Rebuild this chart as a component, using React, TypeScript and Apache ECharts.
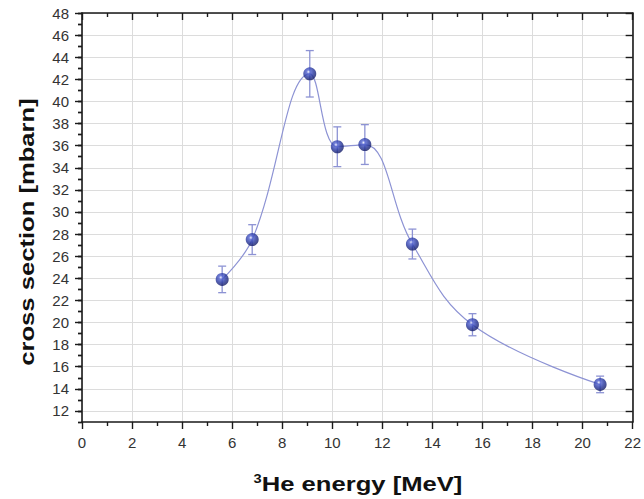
import React, { useEffect, useRef } from "react";
import * as echarts from "echarts";

const energy = [5.6, 6.8, 9.1, 10.2, 11.3, 13.2, 15.6, 20.7];
const crossSection = [23.9, 27.5, 42.5, 35.9, 36.1, 27.1, 19.8, 14.4];
const errors = [1.2, 1.35, 2.1, 1.8, 1.8, 1.35, 1.0, 0.75];
const yMajorTicks = [12, 14, 16, 18, 20, 22, 24, 26, 28, 30, 32, 34, 36, 38, 40, 42, 44, 46, 48];
const yMin = 11;
const yMax = 48;
const xMin = 0;
const xMax = 22;
const xInterval = 2;
const yTitle = "cross section [mbarn]";
const xTitleSup = "3";
const xTitleMain = "He energy [MeV]";

const AXIS_COLOR = "#1a1a1a";
const GRID_COLOR = "#dcdcdc";
const CURVE_COLOR = "#8d93d4";
const FONT = "'Liberation Sans', Arial, sans-serif";

export default function App() {
  const ref = useRef<HTMLDivElement>(null);
  useEffect(() => {
    if (!ref.current) return;
    const chart = echarts.init(ref.current, undefined, { renderer: "svg" });
    const lineStyle = { color: AXIS_COLOR, width: 1.6 };
    const baseY = {
      type: "value",
      min: yMin,
      max: yMax,
      splitLine: { show: false },
      axisLabel: { show: false },
    };
    const option: any = {
      animation: false,
      backgroundColor: "#ffffff",
      grid: { left: 82, right: 8, top: 13, bottom: 77, containLabel: false },
      xAxis: [
        {
          type: "value",
          position: "bottom",
          min: xMin,
          max: xMax,
          interval: xInterval,
          axisLine: { show: true, onZero: false, lineStyle },
          axisTick: { show: true, inside: false, length: 7, lineStyle: { color: AXIS_COLOR, width: 1.4 } },
          minorTick: { show: true, splitNumber: 2, length: 4, lineStyle: { color: AXIS_COLOR, width: 1.4 } },
          splitLine: { show: true, lineStyle: { color: GRID_COLOR, width: 1 } },
          axisLabel: { show: true, margin: 13, fontSize: 15, color: "#333", fontFamily: FONT },
        },
        {
          type: "value",
          position: "top",
          min: xMin,
          max: xMax,
          interval: xInterval,
          axisLine: { show: true, onZero: false, lineStyle },
          axisTick: { show: true, inside: true, length: 7, lineStyle: { color: AXIS_COLOR, width: 1.4 } },
          minorTick: { show: true, splitNumber: 2, length: 4, lineStyle: { color: AXIS_COLOR, width: 1.4 } },
          splitLine: { show: false },
          axisLabel: { show: false },
        },
      ],
      yAxis: [
        {
          ...baseY,
          position: "left",
          axisLine: { show: true, onZero: false, lineStyle },
          axisTick: { show: true, inside: false, length: 7, customValues: yMajorTicks, lineStyle: { color: AXIS_COLOR, width: 1.4 } },
          splitLine: { show: true, lineStyle: { color: GRID_COLOR, width: 1 } },
          axisLabel: { show: true, customValues: yMajorTicks, margin: 13, fontSize: 15, color: "#333", fontFamily: FONT },
        },
        {
          ...baseY,
          position: "left",
          interval: 1,
          axisLine: { show: false },
          axisTick: { show: true, inside: false, length: 4, lineStyle: { color: AXIS_COLOR, width: 1.4 } },
        },
        {
          ...baseY,
          position: "right",
          axisLine: { show: true, onZero: false, lineStyle },
          axisTick: { show: true, inside: true, length: 7, customValues: yMajorTicks, lineStyle: { color: AXIS_COLOR, width: 1.4 } },
        },
        {
          ...baseY,
          position: "right",
          interval: 1,
          axisLine: { show: false },
          axisTick: { show: true, inside: true, length: 4, lineStyle: { color: AXIS_COLOR, width: 1.4 } },
        },
      ],
      series: [
        {
          type: "line",
          xAxisIndex: 0,
          yAxisIndex: 0,
          smooth: 0.4,
          showSymbol: false,
          symbol: "none",
          z: 2,
          lineStyle: { color: CURVE_COLOR, width: 1.2 },
          data: energy.map((x, i) => [x, crossSection[i]]),
        },
        {
          type: "custom",
          xAxisIndex: 0,
          yAxisIndex: 0,
          z: 3,
          encode: { x: 0, y: [1, 2] },
          data: energy.map((x, i) => [x, crossSection[i] - errors[i], crossSection[i] + errors[i]]),
          renderItem: (params: any, api: any) => {
            const x = api.value(0);
            const lo = api.coord([x, api.value(1)]);
            const hi = api.coord([x, api.value(2)]);
            const w = 4;
            const style = { stroke: CURVE_COLOR, lineWidth: 1.3 };
            return {
              type: "group",
              children: [
                { type: "line", shape: { x1: lo[0], y1: lo[1], x2: hi[0], y2: hi[1] }, style },
                { type: "line", shape: { x1: lo[0] - w, y1: lo[1], x2: lo[0] + w, y2: lo[1] }, style },
                { type: "line", shape: { x1: hi[0] - w, y1: hi[1], x2: hi[0] + w, y2: hi[1] }, style },
              ],
            };
          },
        },
        {
          type: "scatter",
          xAxisIndex: 0,
          yAxisIndex: 0,
          z: 4,
          symbol: "circle",
          symbolSize: 13,
          itemStyle: {
            color: {
              type: "radial",
              x: 0.4,
              y: 0.35,
              r: 0.65,
              colorStops: [
                { offset: 0, color: "#eef0ff" },
                { offset: 0.22, color: "#5061d0" },
                { offset: 0.6, color: "#26369f" },
                { offset: 1, color: "#141c66" },
              ],
            },
          },
          data: energy.map((x, i) => [x, crossSection[i]]),
        },
      ],
      graphic: [
        {
          type: "text",
          x: 27,
          y: 232,
          rotation: Math.PI / 2,
          scaleX: 1.22,
          style: {
            text: yTitle,
            font: `bold 21px ${FONT}`,
            fill: "#111",
            textAlign: "center",
            textVerticalAlign: "middle",
          },
        },
        {
          type: "text",
          x: 358,
          y: 484,
          scaleX: 1.22,
          style: {
            text: `{s|${xTitleSup}}{m|${xTitleMain}}`,
            textAlign: "center",
            textVerticalAlign: "middle",
            fill: "#111",
            rich: {
              s: { font: `bold 12px ${FONT}`, fill: "#111", verticalAlign: "top", padding: [0, 0, 10, 0] },
              m: { font: `bold 21px ${FONT}`, fill: "#111" },
            },
          },
        },
      ],
    };
    chart.setOption(option);
    return () => chart.dispose();
  }, []);
  return (
    <div
      ref={ref}
      style={{ position: "fixed", left: 0, top: 0, width: 644, height: 499, background: "#fff" }}
    />
  );
}
